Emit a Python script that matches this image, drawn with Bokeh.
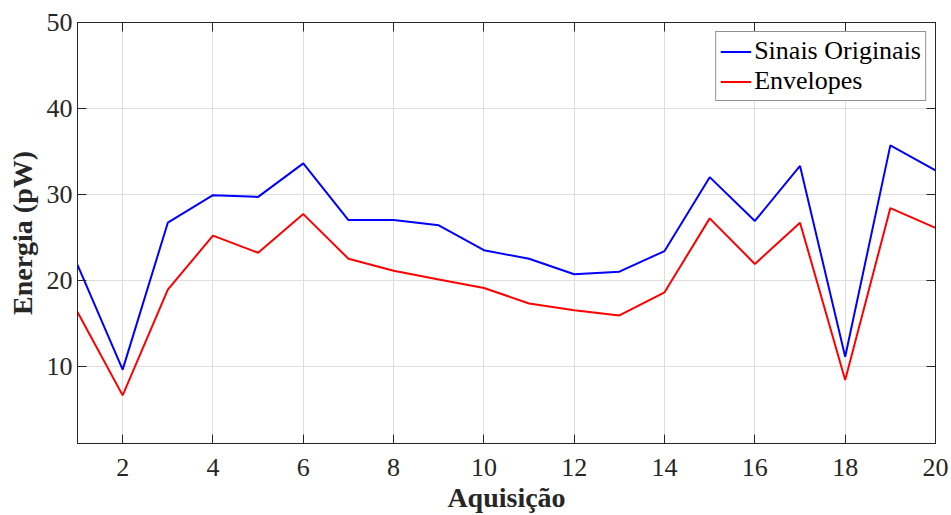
from bokeh.plotting import figure
from bokeh.models import Range1d, FixedTicker, LinearAxis, CustomJSTickFormatter
from bokeh.embed import file_html
from bokeh.resources import INLINE

# ---- data ----
aquisicao = list(range(1, 21))
sinais_originais = [21.8, 9.6, 26.7, 29.9, 29.7, 33.6, 27.0, 27.0, 26.4, 23.5,
                    22.5, 20.7, 21.0, 23.4, 32.0, 26.9, 33.3, 11.1, 35.7, 32.8]
envelopes = [16.3, 6.6, 18.9, 25.2, 23.2, 27.7, 22.5, 21.1, 20.1, 19.1,
             17.3, 16.5, 15.9, 18.6, 27.2, 21.9, 26.7, 8.4, 28.4, 26.1]
x_ticks = [2, 4, 6, 8, 10, 12, 14, 16, 18, 20]
y_ticks = [10, 20, 30, 40, 50]
x_label = "Aquisição"
y_label = "Energia (pW)"
series_names = ["Sinais Originais", "Envelopes"]

FONT = "Liberation Serif"
AX = "#262626"
X0, X1, Y0, Y1 = 1, 20, 1, 50

p = figure(width=951, height=515, output_backend="svg", toolbar_location=None,
           x_range=Range1d(X0, X1), y_range=Range1d(Y0, Y1),
           min_border_left=77, min_border_right=16, min_border_top=22,
           min_border_bottom=72)
p.background_fill_color = "white"
p.border_fill_color = "white"
p.outline_line_color = AX
p.outline_line_width = 1

p.line(aquisicao, sinais_originais, line_color="#0000ff", line_width=2,
       legend_label=series_names[0])
p.line(aquisicao, envelopes, line_color="#ff0000", line_width=2,
       legend_label=series_names[1])

# axes
for ax, ticks in ((p.xaxis[0], x_ticks), (p.yaxis[0], y_ticks)):
    ax.ticker = FixedTicker(ticks=ticks)
    ax.major_tick_in = 9
    ax.major_tick_out = 0
    ax.minor_tick_in = 0
    ax.minor_tick_out = 0
    ax.axis_line_color = AX
    ax.major_tick_line_color = AX
    ax.major_label_text_font = FONT
    ax.major_label_text_font_size = "26px"
    ax.major_label_text_color = AX
    ax.axis_label_text_font = FONT
    ax.axis_label_text_font_size = "28px"
    ax.axis_label_text_font_style = "bold"
    ax.axis_label_text_color = AX

p.xaxis[0].axis_label = x_label
p.xaxis[0].major_label_standoff = 15
p.xaxis[0].axis_label_standoff = 3
p.yaxis[0].axis_label = y_label
p.yaxis[0].major_label_standoff = 5
p.yaxis[0].axis_label_standoff = 6

# box axes (top/right) with inward ticks, no labels
blank = CustomJSTickFormatter(code="return ''")
for side, ticks in (("above", x_ticks), ("right", y_ticks)):
    a = LinearAxis(ticker=FixedTicker(ticks=ticks), formatter=blank,
                   major_tick_in=9, major_tick_out=0,
                   minor_tick_in=0, minor_tick_out=0,
                   major_label_standoff=0, axis_line_color=AX, major_tick_line_color=AX)
    p.add_layout(a, side)

# grid
p.xgrid.ticker = FixedTicker(ticks=x_ticks)
p.ygrid.ticker = FixedTicker(ticks=y_ticks)
for g in (p.xgrid[0], p.ygrid[0]):
    g.grid_line_color = "#dedede"
    g.grid_line_width = 1

# legend
lg = p.legend[0]
lg.location = "top_right"
lg.margin = 9
lg.padding = 4
lg.spacing = -3
lg.label_standoff = 3
lg.glyph_width = 31
lg.glyph_height = 27
lg.label_height = 27
lg.label_text_font = FONT
lg.label_text_font_size = "26px"
lg.label_text_color = "#000000"
lg.border_line_color = AX
lg.border_line_width = 1
lg.background_fill_color = "white"
lg.background_fill_alpha = 1

open("out.html", "w").write(file_html(p, INLINE))
